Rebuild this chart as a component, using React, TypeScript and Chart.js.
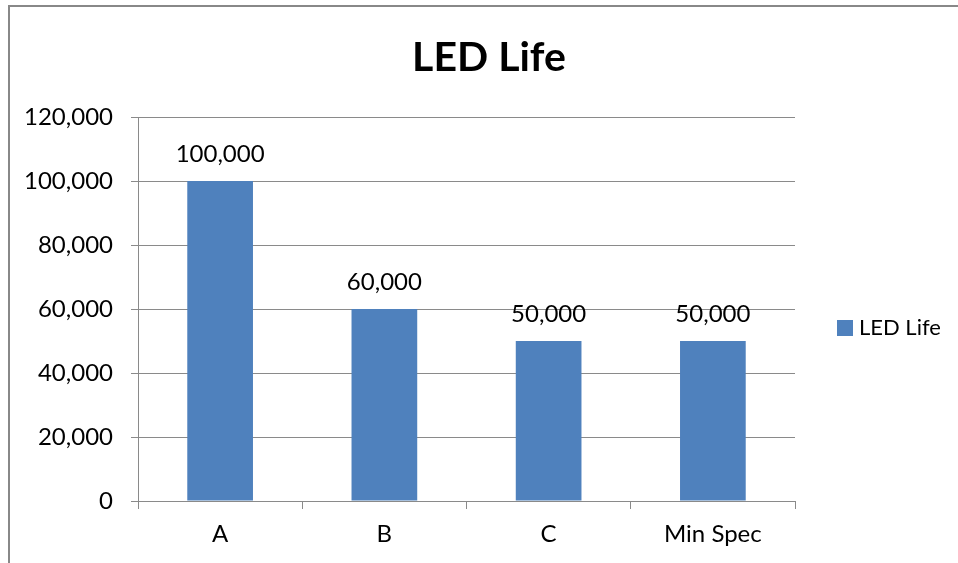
import React, { useEffect, useRef } from "react";
import { Chart, registerables } from "chart.js";

Chart.register(...registerables);

const categories = ["A", "B", "C", "Min Spec"];
const seriesName = "LED Life";
const values = [100000, 60000, 50000, 50000];
const chartTitle = "LED Life";
const yMin = 0;
const yMax = 120000;
const yStep = 20000;

const FONT = "Lato, 'Open Sans', sans-serif";
const BAR_COLOR = "#4F81BD";
const GRID_COLOR = "#8A8A8A";

const fmt = (v: number) => v.toLocaleString("en-US");

const decorPlugin = {
  id: "decor",
  afterDatasetsDraw(chart: any) {
    const ctx = chart.ctx;
    const meta = chart.getDatasetMeta(0);
    ctx.save();
    ctx.fillStyle = "#000";
    ctx.font = `24px ${FONT}`;
    ctx.textAlign = "center";
    ctx.textBaseline = "middle";
    meta.data.forEach((bar: any, i: number) => {
      ctx.fillText(fmt(values[i]), bar.x, bar.y - 27);
    });
    ctx.restore();
  },
  afterDraw(chart: any) {
    const ctx = chart.ctx;
    const area = chart.chartArea;
    ctx.save();
    // title
    ctx.fillStyle = "#000";
    ctx.font = `bold 41px ${FONT}`;
    ctx.textAlign = "center";
    ctx.textBaseline = "middle";
    ctx.fillText(chartTitle, 489, 58);
    // legend
    const ly = (area.top + area.bottom) / 2 + 19;
    ctx.fillStyle = BAR_COLOR;
    ctx.fillRect(837, ly - 8, 16, 16);
    ctx.fillStyle = "#000";
    ctx.font = `22px ${FONT}`;
    ctx.textAlign = "left";
    ctx.fillText(seriesName, 859, ly);
    ctx.restore();
  },
};

export default function App() {
  const ref = useRef<HTMLCanvasElement | null>(null);
  useEffect(() => {
    if (!ref.current) return;
    const chart = new Chart(ref.current, {
      type: "bar",
      data: {
        labels: categories,
        datasets: [
          {
            label: seriesName,
            data: values,
            backgroundColor: BAR_COLOR,
            borderWidth: 0,
            categoryPercentage: 1,
            barPercentage: 0.4,
          },
        ],
      },
      options: {
        animation: false,
        responsive: false,
        maintainAspectRatio: false,
        layout: { padding: { left: 0, right: 163, top: 117, bottom: 0 } },
        plugins: {
          legend: { display: false },
          title: { display: false },
          tooltip: { enabled: false },
        },
        scales: {
          x: {
            offset: true,
            grid: {
              display: true,
              offset: true,
              drawOnChartArea: false,
              drawTicks: true,
              tickLength: 8,
              color: GRID_COLOR,
            },
            border: { display: true, color: GRID_COLOR, width: 1 },
            ticks: {
              color: "#000",
              padding: 11,
              font: { family: FONT, size: 24 },
            },
            afterFit: (s: any) => {
              s.height = 62;
            },
          },
          y: {
            min: yMin,
            max: yMax,
            grid: {
              color: GRID_COLOR,
              drawTicks: true,
              tickLength: 7,
            },
            border: { display: true, color: GRID_COLOR, width: 1 },
            ticks: {
              stepSize: yStep,
              color: "#000",
              padding: 18,
              font: { family: FONT, size: 24 },
              callback: (v: any) => fmt(Number(v)),
            },
            afterFit: (s: any) => {
              s.width = 138;
            },
          },
        },
      },
      plugins: [decorPlugin],
    });
    return () => chart.destroy();
  }, []);

  return (
    <div style={{ position: "fixed", left: 0, top: 0, width: 958, height: 563, background: "#fff" }}>
      <div
        style={{
          position: "absolute",
          left: 8,
          top: 5,
          right: -10,
          bottom: -10,
          borderTop: "2px solid #888",
          borderLeft: "2px solid #888",
        }}
      />
      <canvas ref={ref} width={958} height={563} style={{ position: "absolute", left: 0, top: 0 }} />
    </div>
  );
}
